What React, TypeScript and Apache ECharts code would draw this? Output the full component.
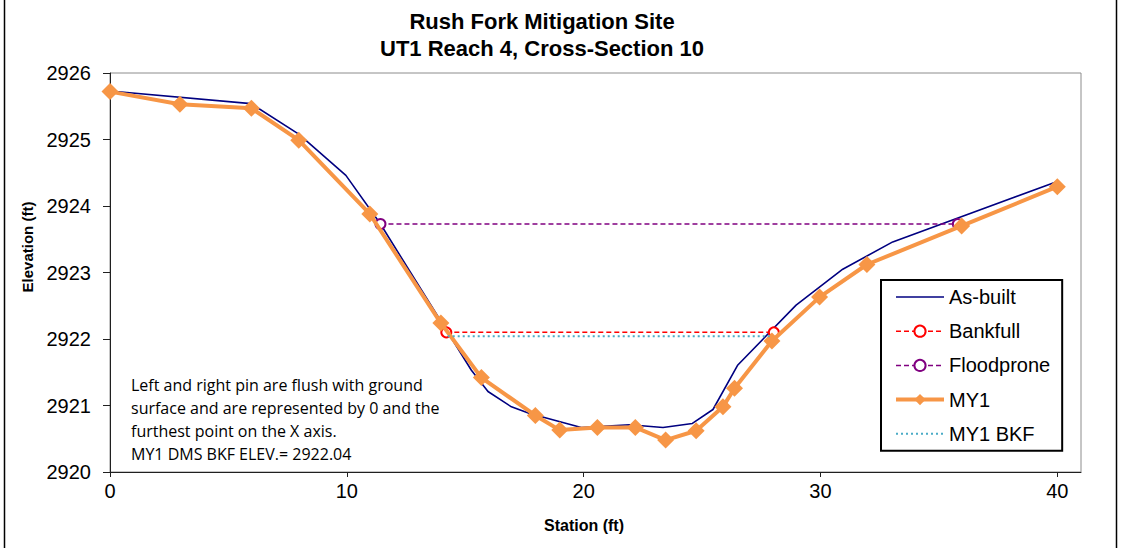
import React, { useEffect, useRef } from "react";
import * as echarts from "echarts";

// Surveyed cross-section: station (ft) and elevation (ft)
const asBuiltStation = [0, 5.95, 7.97, 9.96, 11.4, 15.26, 15.96, 16.95, 17.72, 19.9, 21.94, 23.35, 24.59, 25.46, 26.51, 28.97, 30.94, 33.05, 40];
const asBuiltElev = [2925.73, 2925.54, 2925.08, 2924.46, 2923.74, 2921.53, 2921.21, 2920.98, 2920.88, 2920.67, 2920.71, 2920.67, 2920.73, 2920.94, 2921.61, 2922.51, 2923.05, 2923.46, 2924.37];

const my1Station = [0, 2.95, 5.97, 7.97, 10.97, 13.97, 15.68, 17.96, 18.99, 20.58, 22.18, 23.46, 24.75, 25.88, 26.37, 27.95, 29.96, 31.96, 35.96, 40];
const my1Elev = [2925.72, 2925.53, 2925.47, 2924.99, 2923.88, 2922.24, 2921.42, 2920.85, 2920.63, 2920.67, 2920.67, 2920.48, 2920.62, 2920.98, 2921.26, 2921.97, 2922.63, 2923.12, 2923.7, 2924.29];

const bankfullStation = [14.2, 28.03];
const bankfullElev = [2922.1, 2922.1];

const floodproneStation = [11.42, 35.8];
const floodproneElev = [2923.73, 2923.73];

const my1BkfStation = [14.26, 27.97];
const my1BkfElev = [2922.04, 2922.04];

const xTicks = [0, 10, 20, 30, 40];
const yTicks = [2920, 2921, 2922, 2923, 2924, 2925, 2926];

const titleLines = ["Rush Fork Mitigation Site", "UT1 Reach 4, Cross-Section 10"];
const noteLines = [
  "Left and right pin are flush with ground",
  "surface and are represented by 0 and the",
  "furthest point on the X axis.",
  "MY1 DMS BKF ELEV.= 2922.04",
];

const pair = (xs: number[], ys: number[]) => xs.map((x, i) => [x, ys[i]]);

const FONT = "'Liberation Sans', Arial, sans-serif";

export default function App() {
  const ref = useRef<HTMLDivElement>(null);

  useEffect(() => {
    if (!ref.current) return;
    const chart = echarts.init(ref.current, null, { renderer: "svg" });
    chart.setOption({
      animation: false,
      backgroundColor: "#ffffff",
      grid: {
        left: 110,
        right: 40,
        top: 73,
        bottom: 76,
        show: true,
        borderColor: "#8c8c8c",
        borderWidth: 1,
      },
      xAxis: {
        type: "value",
        min: 0,
        max: 41,
        interval: 10,
        axisLine: { show: true, lineStyle: { color: "#202020", width: 1 } },
        axisTick: { show: true, length: 5, lineStyle: { color: "#202020" } },
        axisLabel: {
          showMaxLabel: false,
          color: "#000",
          fontFamily: FONT,
          fontSize: 20,
          margin: 9,
          formatter: (v: number) => (xTicks.includes(v) ? String(v) : ""),
        },
        splitLine: { show: false },
      },
      yAxis: {
        type: "value",
        min: yTicks[0],
        max: yTicks[yTicks.length - 1],
        interval: 1,
        axisLine: { show: true, lineStyle: { color: "#202020", width: 1 } },
        axisTick: { show: true, length: 7, lineStyle: { color: "#202020" } },
        axisLabel: {
          color: "#000",
          fontFamily: FONT,
          fontSize: 20,
          margin: 19,
          formatter: (v: number) => String(v),
        },
        splitLine: { show: false },
      },
      legend: {
        orient: "vertical",
        left: 881,
        top: 280,
        padding: [7, 12, 7, 13],
        borderColor: "#000",
        borderWidth: 2,
        backgroundColor: "#fff",
        itemWidth: 48,
        itemHeight: 14,
        itemGap: 14.2,
        textStyle: { fontFamily: FONT, fontSize: 20, color: "#000", lineHeight: 20 },
        data: [
          { name: "As-built", itemStyle: { opacity: 0 }, lineStyle: { width: 1.6 } },
          { name: "Bankfull", lineStyle: { width: 1.5 } },
          { name: "Floodprone", lineStyle: { width: 1.5 } },
          { name: "MY1", lineStyle: { width: 4 } },
          { name: "MY1 BKF", itemStyle: { opacity: 0 }, lineStyle: { width: 2 } },
        ],
      },
      series: [
        {
          name: "As-built",
          type: "line",
          data: pair(asBuiltStation, asBuiltElev),
          showSymbol: false,
          symbol: "none",
          lineStyle: { color: "#000080", width: 1.6 },
          itemStyle: { color: "#000080" },
          z: 2,
        },
        {
          name: "Bankfull",
          type: "line",
          data: pair(bankfullStation, bankfullElev),
          symbol: "emptyCircle",
          symbolSize: 10,
          lineStyle: { color: "#ff0000", width: 1.5, type: [5, 3] },
          itemStyle: { color: "#ff0000", borderWidth: 1.2 },
          z: 3,
        },
        {
          name: "Floodprone",
          type: "line",
          data: pair(floodproneStation, floodproneElev),
          symbol: "emptyCircle",
          symbolSize: 10,
          lineStyle: { color: "#800080", width: 1.5, type: [5, 3] },
          itemStyle: { color: "#800080", borderWidth: 1.2 },
          z: 3,
        },
        {
          name: "MY1",
          type: "line",
          data: pair(my1Station, my1Elev),
          symbol: "diamond",
          symbolSize: 17,
          lineStyle: { color: "#f79646", width: 4 },
          itemStyle: { color: "#f79646" },
          z: 4,
        },
        {
          name: "MY1 BKF",
          type: "line",
          data: pair(my1BkfStation, my1BkfElev),
          showSymbol: false,
          symbol: "none",
          lineStyle: { color: "#4bacc6", width: 2, type: [2, 3] },
          itemStyle: { color: "#4bacc6" },
          z: 5,
        },
      ],
      graphic: [
        // outer chart frame
        { type: "line", shape: { x1: 4.5, y1: 0, x2: 4.5, y2: 548 }, style: { stroke: "#000", lineWidth: 1.5 } },
        { type: "line", shape: { x1: 1116.5, y1: 0, x2: 1116.5, y2: 548 }, style: { stroke: "#000", lineWidth: 1.5 } },
        {
          type: "text",
          x: 542,
          y: 8,
          style: {
            text: titleLines.join("\n"),
            fontFamily: FONT,
            fontWeight: "bold",
            fontSize: 22,
            lineHeight: 27,
            fill: "#000",
            align: "center",
          },
        },
        {
          type: "text",
          x: 27,
          y: 247,
          rotation: Math.PI / 2,
          style: {
            text: "Elevation (ft)",
            fontFamily: FONT,
            fontWeight: "bold",
            fontSize: 15,
            fill: "#000",
            align: "center",
            verticalAlign: "middle",
          },
        },
        {
          type: "text",
          x: 584,
          y: 525,
          style: {
            text: "Station (ft)",
            fontFamily: FONT,
            fontWeight: "bold",
            fontSize: 16,
            fill: "#000",
            align: "center",
            verticalAlign: "middle",
          },
        },
        {
          type: "text",
          x: 131,
          y: 373.5,
          style: {
            text: noteLines.join("\n"),
            fontFamily: "'Open Sans', 'Noto Sans', sans-serif",
            fontSize: 16,
            lineHeight: 23,
            fill: "#000",
          },
        },
      ],
    });
    return () => chart.dispose();
  }, []);

  return <div ref={ref} style={{ width: 1121, height: 548, position: "absolute", left: 0, top: 0 }} />;
}
